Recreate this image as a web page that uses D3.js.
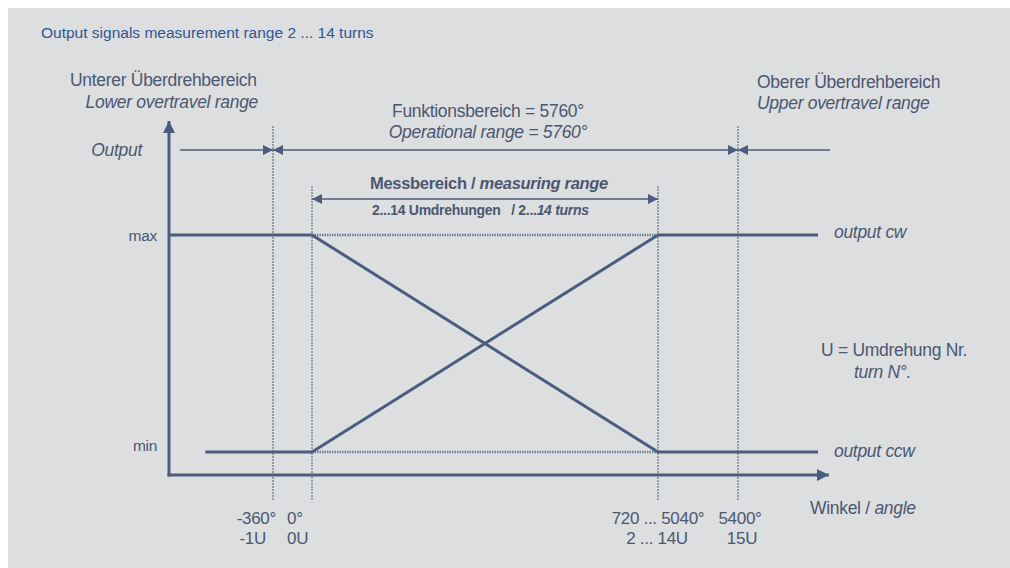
<!DOCTYPE html>
<html>
<head>
<meta charset="utf-8">
<script src="https://cdn.jsdelivr.net/npm/d3@7"></script>
<style>
  body { margin: 0; background: #fff; }
  text { font-family: "Liberation Sans", Arial, sans-serif; fill: #4b5771; }
</style>
</head>
<body>
<div id="chart"></div>
<script>
// schematic angle positions, in turns
const turns = [-1, 0, 14, 15];
const degLabels = ["-360°", "0°", "720 ... 5040°", "5400°"];
const turnLabels = ["-1U", "0U", "2 ... 14U", "15U"];
const levels = [0, 1];
const levelLabels = ["min", "max"];
const cwValues = [[-1.65, 0], [0, 0], [14, 1], [16, 1]];
const ccwValues = [[-2, 1], [0, 1], [14, 0], [16, 0]];

const W = 1010, H = 568;
const ink = "#4a5d7e";

const svg = d3.select("#chart")
              .append("svg")
              .attr("width", W)
              .attr("height", H);

svg.append("rect")
   .attr("x", 8).attr("y", 8)
   .attr("width", W - 8).attr("height", H - 8)
   .attr("fill", "#dddee0");

svg.append("text")
   .attr("x", 41).attr("y", 38)
   .style("font-size", "15.5px")
   .style("fill", "#2f5592")
   .text("Output signals measurement range 2 ... 14 turns");

// piecewise scale: the 2...14 turns span is compressed
const x = d3.scaleLinear()
            .domain([-2, -1, 0, 14, 15, 16])
            .range([169, 273, 312, 658, 738, 818]);

const y = d3.scaleLinear()
            .domain([0, 1])
            .range([452, 235]);

const x0 = x(-2), yAxisY = 475;

const defs = svg.append("defs");
defs.append("marker")
    .attr("id", "head")
    .attr("viewBox", "0 0 10 10")
    .attr("refX", 10).attr("refY", 5)
    .attr("markerWidth", 10).attr("markerHeight", 10)
    .attr("markerUnits", "userSpaceOnUse")
    .attr("orient", "auto-start-reverse")
    .append("path")
    .attr("d", "M0,0L10,5L0,10Z")
    .attr("fill", ink);

defs.append("marker")
    .attr("id", "bigHead")
    .attr("viewBox", "0 0 10 10")
    .attr("refX", 10).attr("refY", 5)
    .attr("markerWidth", 4.5).attr("markerHeight", 4)
    .attr("orient", "auto")
    .append("path")
    .attr("d", "M0,0L10,5L0,10Z")
    .attr("fill", ink);

// vertical dotted guides
const guideTop = {"-1": 126, "0": 186, "14": 186, "15": 126};
svg.selectAll("line.guide")
   .data(turns)
   .enter()
   .append("line")
   .attr("class", "guide")
   .attr("x1", d => x(d)).attr("x2", d => x(d))
   .attr("y1", d => guideTop[d])
   .attr("y2", 500)
   .attr("stroke", ink)
   .attr("stroke-width", 1)
   .attr("stroke-dasharray", "2,1");

// axes
svg.append("line")
   .attr("x1", x0).attr("x2", x0)
   .attr("y1", yAxisY + 1.5).attr("y2", 121)
   .attr("stroke", ink).attr("stroke-width", 3)
   .attr("marker-end", "url(#bigHead)");

svg.append("line")
   .attr("x1", x0 - 1.5).attr("x2", 829)
   .attr("y1", yAxisY).attr("y2", yAxisY)
   .attr("stroke", ink).attr("stroke-width", 3)
   .attr("marker-end", "url(#bigHead)");

// level labels
svg.selectAll("text.level")
   .data(levels)
   .enter()
   .append("text")
   .attr("x", 157)
   .attr("y", d => y(d) + (d ? 6 : -1))
   .attr("text-anchor", "end")
   .style("font-size", "15.5px")
   .style("letter-spacing", "-0.3px")
   .text((d, i) => levelLabels[i]);

// dotted reference lines across the measuring range
levels.forEach(v => {
  svg.append("line")
     .attr("x1", x(0)).attr("x2", x(14))
     .attr("y1", y(v)).attr("y2", y(v))
     .attr("stroke", "#6f7f9a").attr("stroke-width", 2.5)
     .attr("stroke-dasharray", "1.5,1");
});

const line = d3.line()
               .x(d => x(d[0]))
               .y(d => y(d[1]));

[cwValues, ccwValues].forEach(vals => {
  svg.append("path")
     .datum(vals)
     .attr("fill", "none")
     .attr("stroke", ink)
     .attr("stroke-width", 3)
     .attr("d", line);
});

// output range arrows (y = 150)
const arrowY = 150;
function seg(x1, x2, yy, startHead, endHead) {
  const l = svg.append("line")
     .attr("x1", x1).attr("x2", x2)
     .attr("y1", yy).attr("y2", yy)
     .attr("stroke", ink).attr("stroke-width", 1.5);
  if (startHead) l.attr("marker-start", "url(#head)");
  if (endHead) l.attr("marker-end", "url(#head)");
}
seg(180, x(-1), arrowY, false, true);
seg(x(-1), x(15), arrowY, true, true);
seg(x(15), 830, arrowY, true, false);
seg(x(0), x(14), 199, true, true);

// tick labels
const tickAnchor = ["end", "start", "middle", "middle"];
const tickDx = [3, -25, 0, 2];
const turnDx = [-7, -25, -1, 4];
svg.selectAll("text.deg")
   .data(turns)
   .enter()
   .append("text")
   .attr("x", (d, i) => x(d) + tickDx[i])
   .attr("y", 524)
   .attr("text-anchor", (d, i) => tickAnchor[i])
   .style("font-size", "17px")
   .style("letter-spacing", "-0.3px")
   .text((d, i) => degLabels[i]);

svg.selectAll("text.turn")
   .data(turns)
   .enter()
   .append("text")
   .attr("x", (d, i) => x(d) + turnDx[i])
   .attr("y", 544)
   .attr("text-anchor", (d, i) => tickAnchor[i])
   .style("font-size", "17px")
   .style("letter-spacing", "-0.3px")
   .text((d, i) => turnLabels[i]);

// annotations
function label(xx, yy, parts, anchor, size) {
  const t = svg.append("text")
     .attr("x", xx).attr("y", yy)
     .attr("text-anchor", anchor || "start")
     .style("font-size", (size || 17.5) + "px")
     .style("letter-spacing", "-0.3px");
  parts.forEach(p => {
    t.append("tspan")
     .style("font-style", p[1] ? "italic" : "normal")
     .text(p[0]);
  });
  return t;
}

label(70, 86, [["Unterer Überdrehbereich", 0]]);
label(258, 108, [["Lower overtravel range", 1]], "end");
label(142, 156, [["Output", 1]], "end");
label(488, 117, [["Funktionsbereich = 5760°", 0]], "middle");
label(488, 138, [["Operational range = 5760°", 1]], "middle");
label(489, 189, [["Messbereich / ", 0], ["measuring range", 1]], "middle", 16.5).style("font-weight", "bold");
label(372, 215, [["2...14 Umdrehungen\u00a0\u00a0 / 2...", 0], ["14 turns", 1]], "start", 14).style("font-weight", "bold");
label(757, 88, [["Oberer Überdrehbereich", 0]]);
label(757, 109, [["Upper overtravel range", 1]]);
label(834, 238, [["output cw", 1]]);
label(834, 457, [["output ccw", 1]]);
label(821, 356, [["U = Umdrehung Nr.", 0]]);
label(854, 378, [["turn N°.", 1]]);
label(810, 514, [["Winkel / ", 0], ["angle", 1]]);
</script>
</body>
</html>
